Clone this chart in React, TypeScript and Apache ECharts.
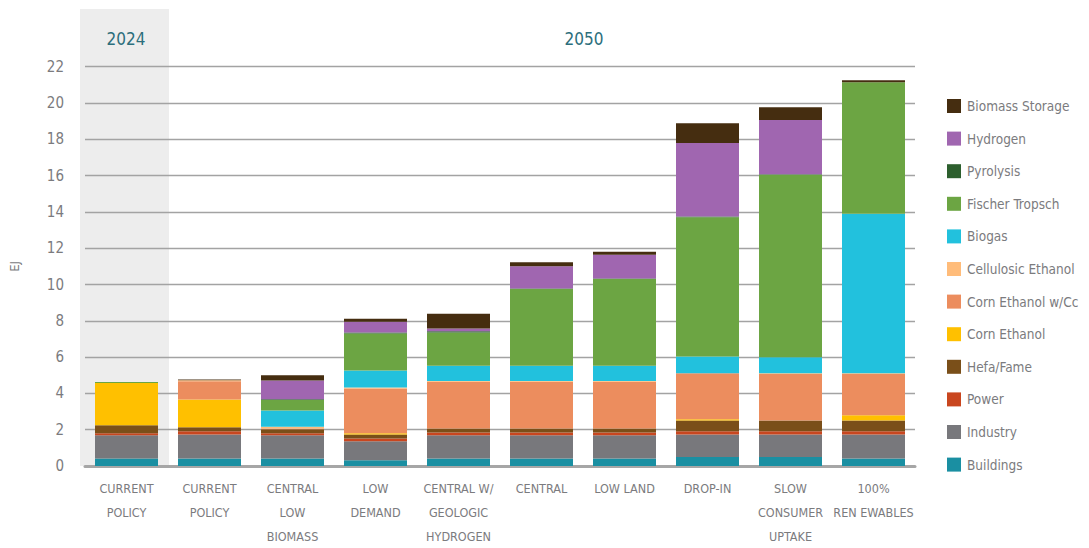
import React, { useEffect, useRef } from "react";
import * as echarts from "echarts";

const categories = [
  "CURRENT\nPOLICY",
  "CURRENT\nPOLICY",
  "CENTRAL\nLOW\nBIOMASS",
  "LOW\nDEMAND",
  "CENTRAL W/\nGEOLOGIC\nHYDROGEN",
  "CENTRAL",
  "LOW LAND",
  "DROP-IN",
  "SLOW\nCONSUMER\nUPTAKE",
  "100%\nREN EWABLES",
];

const yTicks = { min: 0, max: 22, interval: 2 };

const buildings = [0.42, 0.42, 0.42, 0.31, 0.42, 0.42, 0.42, 0.5, 0.5, 0.42];
const industry = [1.27, 1.32, 1.27, 1.05, 1.28, 1.28, 1.28, 1.24, 1.24, 1.32];
const power = [0.12, 0.17, 0.11, 0.16, 0.15, 0.15, 0.15, 0.18, 0.18, 0.18];
const hefaFame = [0.43, 0.22, 0.22, 0.22, 0.22, 0.22, 0.22, 0.59, 0.59, 0.59];
const cornEthanol = [2.33, 1.53, 0, 0.07, 0, 0, 0, 0.07, 0, 0.29];
const cornEthanolCc = [0, 1.01, 0.04, 2.46, 2.57, 2.57, 2.57, 2.53, 2.56, 2.27];
const cellulosicEthanol = [0, 0.05, 0.1, 0.06, 0.04, 0.04, 0.04, 0, 0.04, 0.04];
const biogas = [0, 0, 0.9, 0.93, 0.85, 0.85, 0.85, 0.92, 0.88, 8.79];
const fischerTropsch = [0.06, 0, 0.57, 2.04, 1.83, 4.22, 4.77, 7.67, 10.05, 7.24];
const pyrolysis = [0, 0, 0.05, 0.05, 0.06, 0.03, 0.03, 0.05, 0.04, 0];
const hydrogen = [0, 0, 1.03, 0.6, 0.15, 1.22, 1.31, 4.04, 2.99, 0];
const biomassStorage = [0, 0.05, 0.29, 0.16, 0.82, 0.22, 0.17, 1.1, 0.69, 0.11];

const seriesDefs = [
  { name: "Buildings", data: buildings, color: "#1A8FA2" },
  { name: "Industry", data: industry, color: "#78787C" },
  { name: "Power", data: power, color: "#C9461F" },
  { name: "Hefa/Fame", data: hefaFame, color: "#7A4F19" },
  { name: "Corn Ethanol", data: cornEthanol, color: "#FFC000" },
  { name: "Corn Ethanol w/Cc", data: cornEthanolCc, color: "#EC8D5E" },
  { name: "Cellulosic Ethanol", data: cellulosicEthanol, color: "#FFBC7A" },
  { name: "Biogas", data: biogas, color: "#22C1DD" },
  { name: "Fischer Tropsch", data: fischerTropsch, color: "#6CA543" },
  { name: "Pyrolysis", data: pyrolysis, color: "#2D5F2E" },
  { name: "Hydrogen", data: hydrogen, color: "#A066B0" },
  { name: "Biomass Storage", data: biomassStorage, color: "#452D10" },
];

const FONT = "'DejaVu Sans Condensed', 'Roboto', sans-serif";
const GREY = "#7b7b7e";
const TEAL = "#2C6E7C";

export default function App() {
  const ref = useRef<HTMLDivElement>(null);
  useEffect(() => {
    if (!ref.current) return;
    const chart = echarts.init(ref.current, null, { renderer: "svg" });
    chart.setOption({
      animation: false,
      backgroundColor: "#ffffff",
      textStyle: { fontFamily: FONT },
      grid: { left: 85, right: 174, top: 66.7, bottom: 81.3, containLabel: false },
      graphic: [
        {
          type: "rect",
          z: -10,
          shape: { x: 80, y: 9, width: 89, height: 457 },
          style: { fill: "#EDEDED" },
          silent: true,
        },
        {
          type: "text",
          x: 126,
          y: 39,
          style: { text: "2024", fill: TEAL, font: `17px ${FONT}`, textAlign: "center", textVerticalAlign: "middle" },
        },
        {
          type: "text",
          x: 584,
          y: 39,
          style: { text: "2050", fill: TEAL, font: `17px ${FONT}`, textAlign: "center", textVerticalAlign: "middle" },
        },
      ],
      legend: {
        orient: "vertical",
        left: 942,
        top: 94,
        itemWidth: 14,
        itemHeight: 14,
        itemGap: 18.6,
        icon: "rect",
        data: seriesDefs.map((s) => s.name).reverse(),
        textStyle: { color: GREY, fontSize: 13.5, lineHeight: 14, fontFamily: FONT, padding: [0, 0, 0, 1] },
      },
      xAxis: {
        type: "category",
        data: categories,
        axisLine: { lineStyle: { color: "#a6a6a6", width: 3 } },
        axisTick: { show: false },
        axisLabel: {
          interval: 0,
          color: GREY,
          fontSize: 12.5,
          lineHeight: 24,
          margin: 10,
          fontFamily: FONT,
        },
      },
      yAxis: {
        type: "value",
        min: yTicks.min,
        max: yTicks.max,
        interval: yTicks.interval,
        name: "EJ",
        nameLocation: "middle",
        nameGap: 64,
        nameRotate: 90,
        nameTextStyle: { color: GREY, fontSize: 13, fontFamily: FONT },
        axisLine: { show: false },
        axisTick: { show: false },
        axisLabel: { color: GREY, fontSize: 15, margin: 21, fontFamily: FONT },
        splitLine: { lineStyle: { color: "#a3a3a3", width: 1.3 } },
      },
      series: seriesDefs.map((s) => ({
        name: s.name,
        type: "bar",
        stack: "total",
        barWidth: 63,
        data: s.data,
        itemStyle: { color: s.color },
        emphasis: { disabled: true },
      })),
    });
    return () => chart.dispose();
  }, []);
  return (
    <div
      ref={ref}
      style={{ position: "fixed", left: 0, top: 0, width: 1089, height: 548 }}
    />
  );
}
